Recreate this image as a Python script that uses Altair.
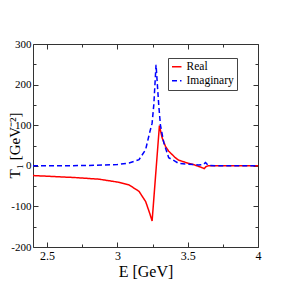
import altair as alt
import pandas as pd

# ---- data ----
e_real = [2.4, 2.52, 2.7, 2.87, 3.0, 3.083, 3.154, 3.201, 3.229, 3.247,
          3.299, 3.318, 3.342, 3.365, 3.412, 3.435, 3.506, 3.55, 3.59,
          3.618, 3.63, 3.646, 3.7, 3.85, 4.0]
t_real = [-24, -26, -29, -33, -40, -47, -63, -88, -116, -136,
          99, 69, 48, 36, 20, 14, 6, 2, -3,
          -7, -2, 0, 0, 0, 0]

e_imag = [2.4, 2.6, 2.8, 3.0, 3.083, 3.154, 3.201, 3.229, 3.247, 3.259,
          3.275, 3.294, 3.306, 3.33, 3.365, 3.412, 3.435, 3.506, 3.576,
          3.61, 3.627, 3.646, 3.7, 3.85, 4.0]
t_imag = [0, 0, 1, 3, 7, 15, 40, 81, 105, 150,
          249, 150, 101, 57, 20, 11, 6, 4, 2,
          3, 8, 1, 0, 0, 0]

series_names = ["Real", "Imaginary"]
series_colors = ["#ff0000", "#0000ff"]
series_dash = [[1, 0], [5, 3]]

x_major = [2.5, 3, 3.5, 4]
x_minor = [2.75, 3.25, 3.75]
y_major = [-200, -100, 0, 100, 200, 300]
y_minor = [-150, -50, 50, 150, 250]

df = pd.concat([
    pd.DataFrame({"E": e_real, "T": t_real, "series": "Real", "order": range(len(e_real))}),
    pd.DataFrame({"E": e_imag, "T": t_imag, "series": "Imaginary", "order": range(len(e_imag))}),
], ignore_index=True)

FONT = "Liberation Serif"
xs = alt.Scale(domain=[2.4, 4], nice=False, zero=False)
ys = alt.Scale(domain=[-200, 300], nice=False, zero=False)


def tick_axis(orient, values, size, **kw):
    return alt.Axis(orient=orient, values=values, tickSize=size, offset=-size,
                    domain=False, grid=False, tickColor="#333", tickWidth=1, **kw)


lines = alt.Chart(df).mark_line(strokeWidth=1.5).encode(
    x=alt.X("E:Q", scale=xs,
            axis=tick_axis("bottom", x_major, 5, labels=True, labelFont=FONT,
                           labelFontSize=12, labelPadding=3, labelFlush=False,
                           labelOverlap=False, labelExpr="'' + datum.value",
                           labelColor="#000",
                           title="E [GeV]", titleFont=FONT, titleFontSize=16,
                           titleFontWeight="normal", titleY=34,
                           titleBaseline="alphabetic", titleColor="#000")),
    y=alt.Y("T:Q", scale=ys,
            axis=tick_axis("left", y_major, 5, labels=True, labelFont=FONT,
                           labelFontSize=11, labelPadding=2, labelFlush=False,
                           labelOverlap=False, labelExpr="'' + datum.value",
                           labelColor="#000",
                           title="T\u2081 [GeV\u207b\u00b2]", titleFont=FONT,
                           titleFontSize=15, titleFontWeight="normal",
                           titleX=-24, titleY=101, titleAngle=-90,
                           titleAlign="center", titleBaseline="middle",
                           titleColor="#000")),
    color=alt.Color("series:N",
                    scale=alt.Scale(domain=series_names, range=series_colors),
                    legend=alt.Legend(title=None, orient="none", legendX=135,
                                      legendY=14, strokeColor="#444",
                                      fillColor="#ffffff", padding=3,
                                      labelFont=FONT, labelFontSize=11.5,
                                      labelColor="#000",
                                      symbolType="stroke", symbolSize=90,
                                      symbolStrokeWidth=1.5, rowPadding=1,
                                      labelOffset=4)),
    strokeDash=alt.StrokeDash("series:N",
                              scale=alt.Scale(domain=series_names, range=series_dash),
                              legend=alt.Legend(title=None, orient="none",
                                                legendX=135, legendY=14)),
    order="order:Q",
)


def ghost(xaxis, yaxis):
    return alt.Chart(df).mark_point(opacity=0).encode(
        x=alt.X("E:Q", scale=xs, axis=xaxis),
        y=alt.Y("T:Q", scale=ys, axis=yaxis),
    )


minor_bl = ghost(tick_axis("bottom", x_minor, 3, labels=False, title=None),
                 tick_axis("left", y_minor, 3, labels=False, title=None))
major_tr = ghost(tick_axis("top", x_major, 5, labels=False, title=None),
                 tick_axis("right", y_major, 5, labels=False, title=None))
minor_tr = ghost(tick_axis("top", x_minor, 3, labels=False, title=None),
                 tick_axis("right", y_minor, 3, labels=False, title=None))

chart = alt.layer(lines, minor_bl, major_tr, minor_tr).resolve_axis(
    x="independent", y="independent"
).properties(
    width=225, height=203,
    autosize=alt.AutoSizeParams(type="none"),
    padding={"left": 25, "top": 36, "right": 25, "bottom": 36},
    background="#ffffff",
).configure_view(stroke="#333", strokeWidth=1)

chart.save("out.html", embed_options={"renderer": "svg", "actions": False})
